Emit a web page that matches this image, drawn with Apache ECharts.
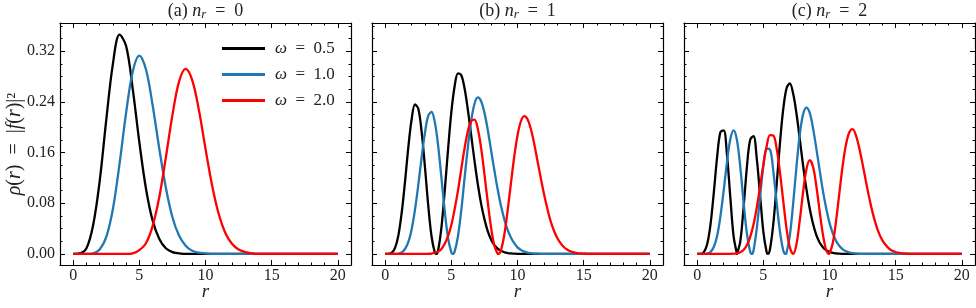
<!DOCTYPE html>
<html><head><meta charset="utf-8">
<script src="https://cdn.jsdelivr.net/npm/echarts@6/dist/echarts.min.js"></script>
<style>html,body{margin:0;padding:0;background:#fff}#c{width:976px;height:308px}</style>
</head><body><div id="c"></div>
<script>
// ---------- data ----------
// r grid: panel (a) sampled every 0.5, panels (b),(c) every 0.25, starting at r = 0
const STEP_A = 0.5;
const STEP_BC = 0.25;
const R_END = 20;            // every curve continues at 0 up to r = 20

const seriesNames = ['ω = 0.5', 'ω = 1.0', 'ω = 2.0'];
const panelLetters = ['(a)', '(b)', '(c)'];
const panelNr = ['0', '1', '2'];

const xMajorTicks = [0, 5, 10, 15, 20];
const xMinorTicks = [1,2,3,4,6,7,8,9,11,12,13,14,16,17,18,19];
const yMajorTicks = [0, 0.08, 0.16, 0.24, 0.32];
const yMinorTicks = [0.02,0.04,0.06,0.10,0.12,0.14,0.18,0.20,0.22,0.26,0.28,0.30,0.34,0.36];
const yTickLabels = ['0.00', '0.08', '0.16', '0.24', '0.32'];

// (a) n_r = 0
const a_w05 = [0,0.001,0.009,0.045,0.115,0.212,0.300,0.346,0.328,0.260,0.176,0.103,0.053,0.024,0.009,0.003,0.001,0,0];
const a_w10 = [0,0,0,0.001,0.007,0.027,0.071,0.142,0.223,0.288,0.313,0.291,0.235,0.167,0.105,0.058,0.029,0.013,0.005,0.002,0.001,0];
const a_w20 = [0,0,0,0,0,0,0,0,0,0.001,0.006,0.017,0.044,0.089,0.152,0.219,0.272,0.292,0.274,0.227,0.166,0.108,0.063,0.033,0.016,0.007,0.003,0.001,0];

// (b) n_r = 1
const b_w05 = [0,0.0001,0.002,0.010,0.030,0.066,0.115,0.169,0.213,0.236,0.229,0.193,0.138,0.077,0.028,0.002,
  0.006,0.042,0.100,0.165,0.224,0.265,0.285,0.282,0.261,0.227,0.187,0.147,0.110,0.079,0.055,0.036,0.023,0.014,0.0085,0.005,0.0027,0.0015,0.0008,0.0004,0.0002];
const b_w10 = [0,0,0,0.0001,0.0006,0.0025,0.008,0.019,0.039,0.070,0.109,0.152,0.191,0.218,0.224,0.208,0.171,0.120,0.068,0.025,0.0024,
  0.004,0.028,0.069,0.120,0.169,0.210,0.237,0.247,0.241,0.223,0.196,0.164,0.132,0.102,0.076,0.055,0.038,0.026,0.017,0.0105,0.0065,0.0038,0.0022,0.0013,0.0007,0.0004,0.0002,0.0001];
const b_w20 = [0,0,0,0,0,0,0,0,0,0,0,0,
  0.0001,0.0003,0.0007,0.002,0.004,0.008,0.016,0.028,0.046,0.071,0.100,0.134,0.167,0.194,0.210,0.212,0.197,0.167,0.126,0.082,0.042,0.013,0.0005,
  0.006,0.030,0.068,0.111,0.153,0.187,0.209,0.2175,0.213,0.198,0.175,0.148,0.121,0.095,0.072,0.052,0.037,0.0255,0.017,0.011,0.007,0.0042,0.0025,0.0015,0.0009,0.0005,0.0003,0.0001,0,0];

// (c) n_r = 2
const c_w05 = [0,0.0001,0.003,0.0155,0.046,0.096,0.152,0.192,0.195,0.156,0.090,0.028,0.0002,
  0.019,0.072,0.136,0.180,0.186,0.151,0.093,0.035,0.0026,
  0.0075,0.047,0.108,0.174,0.228,0.261,0.269,0.253,0.222,0.182,0.140,0.103,0.072,0.048,0.030,0.018,0.0107,0.006,0.0033,0.0017,0.0009,0.0004,0.0002,0.0001,0];
const c_w10 = [0,0,0,0.0005,0.003,0.011,0.028,0.059,0.100,0.145,0.181,0.195,0.180,0.138,0.083,0.033,0.004,
  0.0047,0.040,0.090,0.139,0.166,0.165,0.131,0.082,0.036,0.006,
  0.0015,0.029,0.079,0.137,0.188,0.220,0.231,0.223,0.199,0.167,0.133,0.100,0.072,0.049,0.0325,0.0206,0.0126,0.0074,0.0042,0.0023,0.0012,0.0006,0.0003,0.0001,0,0];
const c_w20 = [0,0,0,0,0,0,0,0,0,0,
  0.0001,0.0004,0.001,0.0027,0.0064,0.0138,0.0265,0.046,0.073,0.106,0.141,0.170,0.1875,0.187,0.167,0.1295,0.084,0.0405,0.0105,0,
  0.015,0.0525,0.097,0.133,0.148,0.138,0.108,0.068,0.031,0.0063,0.0005,
  0.0174,0.0527,0.0968,0.140,0.173,0.192,0.197,0.187,0.167,0.142,0.115,0.089,0.066,0.047,0.032,0.0215,0.014,0.0086,0.0052,0.0031,0.0018,0.001,0.0005,0.0003,0.0001,0];

// zeros (nodes) of the densities between the samples
const b_w05_nodes = [3.85];
const b_w10_nodes = [5.11];
const b_w20_nodes = [8.56];
const c_w05_nodes = [3.02, 5.34];
const c_w10_nodes = [4.13, 6.68];
const c_w20_nodes = [9.95];

// ---------- build ----------
function toPairs(step, vals, nodes) {
  const p = vals.map((v, i) => [Math.round(i * step * 1000) / 1000, v]);
  (nodes || []).forEach(n => p.push([n, 0]));
  p.sort((a, b) => a[0] - b[0]);
  if (p[p.length - 1][0] < R_END) p.push([R_END, 0]);
  return p;
}

const panels = [
  [toPairs(STEP_A, a_w05), toPairs(STEP_A, a_w10), toPairs(STEP_A, a_w20)],
  [toPairs(STEP_BC, b_w05, b_w05_nodes), toPairs(STEP_BC, b_w10, b_w10_nodes), toPairs(STEP_BC, b_w20, b_w20_nodes)],
  [toPairs(STEP_BC, c_w05, c_w05_nodes), toPairs(STEP_BC, c_w10, c_w10_nodes), toPairs(STEP_BC, c_w20, c_w20_nodes)]
];

const FONT = 'Liberation Serif';
const colors = ['#000000', '#1f77b4', '#ff0000'];
const gridLeft = [60, 372, 684];
const GT = 23, GW = 291, GH = 242;
const XMIN = -1, XMAX = 21, YMIN = -0.0174, YMAX = 0.3644;

const grids = [], xAxes = [], yAxes = [], series = [], graphics = [];

for (let g = 0; g < 3; g++) {
  grids.push({ left: gridLeft[g], top: GT, width: GW, height: GH, show: false });
  const xBase = { gridIndex: g, type: 'value', min: XMIN, max: XMAX, splitLine: { show: false } };
  const yBase = { gridIndex: g, type: 'value', min: YMIN, max: YMAX, splitLine: { show: false } };
  const line = { show: true, onZero: false, lineStyle: { color: '#000', width: 1.2 } };
  const noLine = { show: false, onZero: false };
  ['bottom', 'top'].forEach(pos => {
    xAxes.push(Object.assign({}, xBase, {
      position: pos, axisLine: line,
      axisTick: { show: true, inside: true, length: 5, customValues: xMajorTicks, lineStyle: { color: '#000', width: 1 } },
      axisLabel: pos === 'bottom'
        ? { show: true, customValues: xMajorTicks, margin: 3, fontFamily: FONT, fontSize: 16, color: '#222' }
        : { show: false }
    }));
    xAxes.push(Object.assign({}, xBase, {
      position: pos, axisLine: noLine,
      axisTick: { show: true, inside: true, length: 2.5, customValues: xMinorTicks, lineStyle: { color: '#000', width: 1 } },
      axisLabel: { show: false }
    }));
  });
  ['left', 'right'].forEach(pos => {
    yAxes.push(Object.assign({}, yBase, {
      position: pos, axisLine: line,
      axisTick: { show: true, inside: true, length: 5, customValues: yMajorTicks, lineStyle: { color: '#000', width: 1 } },
      axisLabel: (pos === 'left' && g === 0)
        ? { show: true, customValues: yMajorTicks, margin: 5, fontFamily: FONT, fontSize: 16, color: '#222',
            formatter: v => yTickLabels[yMajorTicks.findIndex(t => Math.abs(t - v) < 1e-9)] }
        : { show: false }
    }));
    yAxes.push(Object.assign({}, yBase, {
      position: pos, axisLine: noLine,
      axisTick: { show: true, inside: true, length: 2.5, customValues: yMinorTicks, lineStyle: { color: '#000', width: 1 } },
      axisLabel: { show: false }
    }));
  });
  for (let s = 0; s < 3; s++) {
    series.push({
      type: 'line', name: seriesNames[s], xAxisIndex: 4 * g, yAxisIndex: 4 * g,
      data: panels[g][s], symbol: 'none', showSymbol: false, smooth: 0.35,
      lineStyle: { color: colors[s], width: 2.3 }, itemStyle: { color: colors[s] },
      emphasis: { disabled: true }, z: 2 + s
    });
  }
  const cx = gridLeft[g] + GW / 2;
  graphics.push({
    type: 'text', x: cx, y: 11, silent: true,
    style: {
      text: '{u|' + panelLetters[g] + ' }{i|n}{s|r}{u|\u2002=\u2002' + panelNr[g] + '}',
      align: 'center', verticalAlign: 'middle', textAlign: 'center', textVerticalAlign: 'middle',
      fill: '#222',
      rich: {
        u: { fontFamily: FONT, fontSize: 18, lineHeight: 20, fill: '#222' },
        i: { fontFamily: FONT, fontSize: 18, lineHeight: 20, fontStyle: 'italic', fill: '#222' },
        s: { fontFamily: FONT, fontSize: 13, lineHeight: 12, padding: [8, 0, 0, 0], fontStyle: 'italic', fill: '#222' }
      }
    }
  });
  graphics.push({
    type: 'text', x: cx, y: 292, silent: true,
    style: { text: 'r', fontFamily: FONT, fontSize: 19, fontStyle: 'italic', fill: '#222',
      align: 'center', verticalAlign: 'middle', textAlign: 'center', textVerticalAlign: 'middle' }
  });
}

graphics.push({
  type: 'text', x: 15, y: 144, rotation: Math.PI / 2, silent: true,
  style: {
    text: '{i|ρ}{u|(}{i|r}{u|)\u2002=\u2002|}{i|f}{u|(}{i|r}{u|)|²}',
    align: 'center', verticalAlign: 'middle', textAlign: 'center', textVerticalAlign: 'middle',
    fill: '#222',
    rich: {
      u: { fontFamily: FONT, fontSize: 20, lineHeight: 22, fill: '#222' },
      i: { fontFamily: FONT, fontSize: 20, lineHeight: 22, fontStyle: 'italic', fill: '#222' }
    }
  }
});

const chart = echarts.init(document.getElementById('c'), null, { renderer: 'canvas' });
chart.setOption({
  animation: false,
  backgroundColor: '#ffffff',
  grid: grids, xAxis: xAxes, yAxis: yAxes, series: series,
  legend: {
    show: true, left: 222, top: 40, orient: 'vertical', padding: 0,
    itemWidth: 43, itemHeight: 3, itemGap: 9, icon: 'rect', selectedMode: false,
    data: seriesNames,
    formatter: n => '{i|ω}{u|' + n.slice(1).replace(/ /g, '\u2002') + '}',
    textStyle: {
      fontFamily: FONT, fontSize: 17, lineHeight: 16, color: '#222', padding: [0, 0, 0, 5],
      rich: {
        i: { fontFamily: FONT, fontSize: 17, lineHeight: 16, fontStyle: 'italic', color: '#222' },
        u: { fontFamily: FONT, fontSize: 17, lineHeight: 16, color: '#222' }
      }
    }
  },
  graphic: graphics
});
</script></body></html>
